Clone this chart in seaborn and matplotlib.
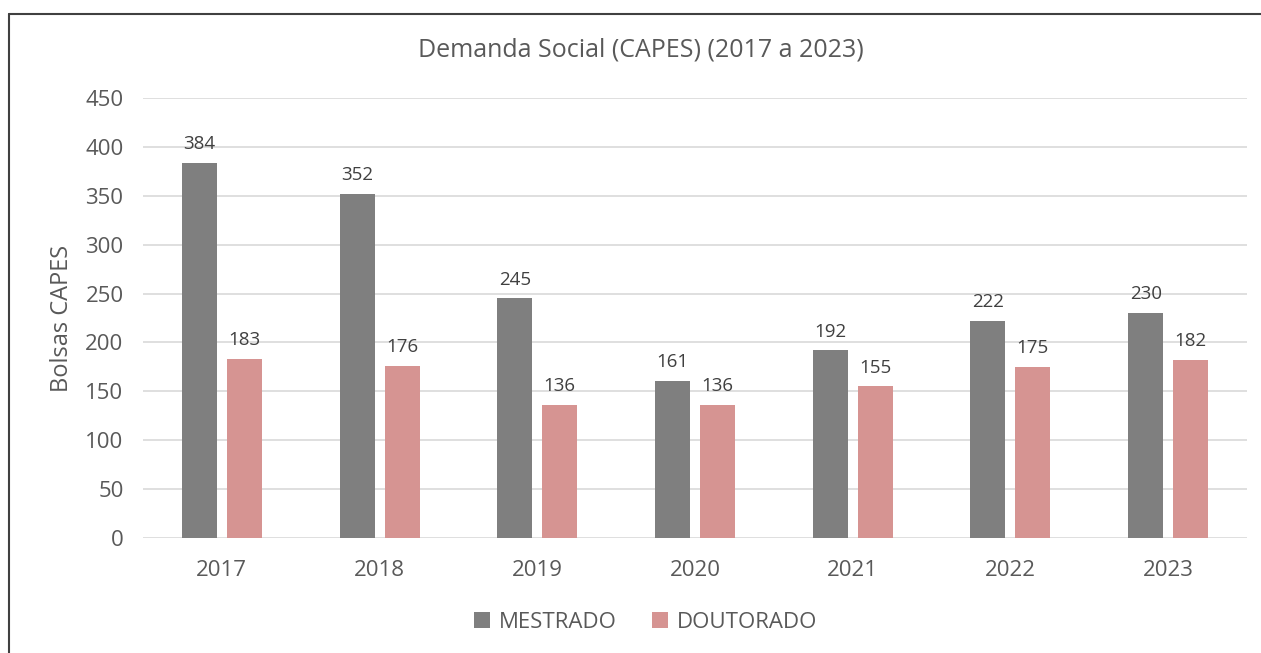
import matplotlib
matplotlib.use("Agg")
import matplotlib.pyplot as plt
import seaborn as sns
import pandas as pd
from matplotlib.lines import Line2D

years = ["2017", "2018", "2019", "2020", "2021", "2022", "2023"]
mestrado = [384, 352, 245, 161, 192, 222, 230]
doutorado = [183, 176, 136, 136, 155, 175, 182]
series = ["MESTRADO", "DOUTORADO"]
colors = ["#7f7f7f", "#d69492"]
yticks = [0, 50, 100, 150, 200, 250, 300, 350, 400, 450]

df = pd.DataFrame({
    "Ano": years * 2,
    "Valor": mestrado + doutorado,
    "Série": [series[0]] * len(years) + [series[1]] * len(years),
})

sns.set_theme(style="white")
plt.rcParams["font.family"] = ["Open Sans", "DejaVu Sans"]
txt = "#595959"

fig = plt.figure(figsize=(12.61, 6.53), dpi=100)
ax = fig.add_axes([0.1134, 0.1761, 0.8755, 0.6738])

sns.barplot(data=df, x="Ano", y="Valor", hue="Série", palette=colors,
            width=0.57, gap=0.22, ax=ax, saturation=1, edgecolor="none")

ax.set_ylim(0, 450)
ax.set_yticks(yticks)
ax.set_xlim(-0.5, len(years) - 0.5)
ax.yaxis.grid(True, color="#d9d9d9", linewidth=1.2)
ax.set_axisbelow(True)
for s in ax.spines.values():
    s.set_visible(False)
ax.tick_params(axis="both", length=0, labelsize=16, labelcolor=txt)
ax.tick_params(axis="y", pad=14)
ax.tick_params(axis="x", pad=16)
ax.set_xlabel("")
ax.set_ylabel("Bolsas CAPES", fontsize=17, color=txt, labelpad=8)
fig.text(0.508, 1 - 50 / 653, "Demanda Social (CAPES) (2017 a 2023)", fontsize=18,
         color=txt, ha="center", va="center")

for c in ax.containers:
    ax.bar_label(c, fmt="%d", padding=7, fontsize=13.5, color="#404040")

sns.move_legend(ax, "center", bbox_to_anchor=(0.512, 1 - 622 / 653),
                bbox_transform=fig.transFigure, ncol=2,
                frameon=False, title=None, fontsize=16, handlelength=0.7,
                handleheight=0.7, columnspacing=1.6, handletextpad=0.4)
for t in ax.get_legend().get_texts():
    t.set_color(txt)

x0 = 9 / 1261
y0 = 1 - 14 / 653
fig.add_artist(Line2D([x0, 1], [y0, y0], color="#404040", linewidth=1.5, transform=fig.transFigure))
fig.add_artist(Line2D([x0, x0], [0, y0], color="#404040", linewidth=1.5, transform=fig.transFigure))

fig.savefig("out.png", dpi=100, facecolor="white")
